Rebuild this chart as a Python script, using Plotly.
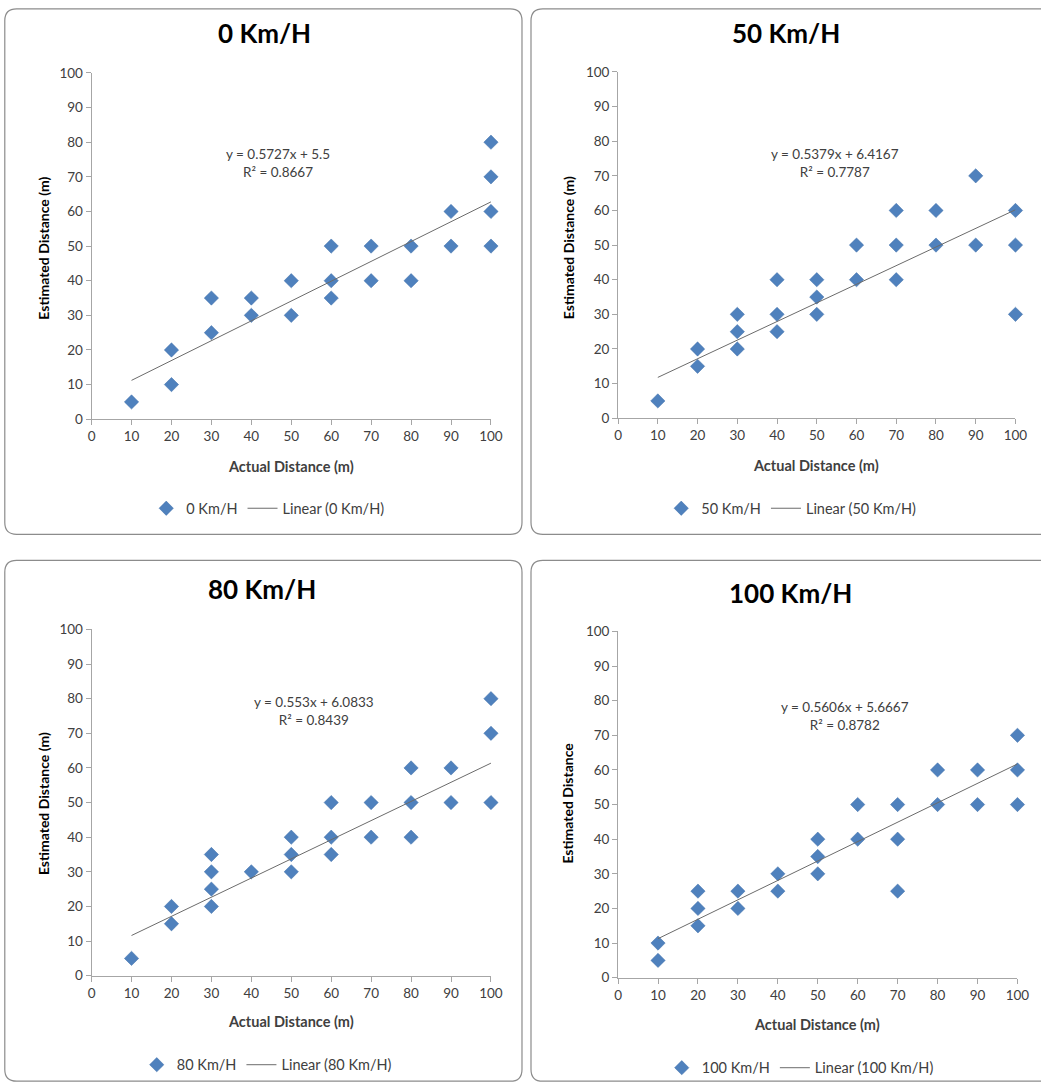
import plotly.graph_objects as go
import numpy as np

W, H = 1041, 1090

titles = ["0 Km/H", "50 Km/H", "80 Km/H", "100 Km/H"]

x_0 = [10, 20, 20, 30, 30, 40, 40, 50, 50, 60, 60, 60, 70, 70, 80, 80, 90, 90, 100, 100, 100, 100]
y_0 = [5, 20, 10, 35, 25, 35, 30, 40, 30, 50, 40, 35, 50, 40, 50, 40, 60, 50, 80, 70, 60, 50]

x_50 = [10, 20, 20, 30, 30, 30, 40, 40, 40, 50, 50, 50, 60, 60, 70, 70, 70, 80, 80, 90, 90, 100, 100, 100]
y_50 = [5, 20, 15, 30, 25, 20, 40, 30, 25, 40, 35, 30, 50, 40, 60, 50, 40, 60, 50, 70, 50, 60, 50, 30]

x_80 = [10, 20, 20, 30, 30, 30, 30, 40, 50, 50, 50, 60, 60, 60, 70, 70, 80, 80, 80, 90, 90, 100, 100, 100]
y_80 = [5, 20, 15, 35, 30, 25, 20, 30, 40, 35, 30, 50, 40, 35, 50, 40, 60, 50, 40, 60, 50, 80, 70, 50]

x_100 = [10, 10, 20, 20, 20, 30, 30, 40, 40, 50, 50, 50, 60, 60, 70, 70, 70, 80, 80, 90, 90, 100, 100, 100]
y_100 = [10, 5, 25, 20, 15, 25, 20, 30, 25, 40, 35, 30, 50, 40, 50, 40, 25, 60, 50, 60, 50, 70, 60, 50]

xs = [x_0, x_50, x_80, x_100]
ys = [y_0, y_50, y_80, y_100]

slopes = [0.5727, 0.5379, 0.553, 0.5606]
intercepts = [5.5, 6.4167, 6.0833, 5.6667]
r_squared = ["0.8667", "0.7787", "0.8439", "0.8782"]
eq_text = ["y = 0.5727x + 5.5", "y = 0.5379x + 6.4167", "y = 0.553x + 6.0833", "y = 0.5606x + 5.6667"]

x_title = "Actual Distance (m)"
y_titles = ["Estimated Distance (m)", "Estimated Distance (m)", "Estimated Distance (m)", "Estimated Distance"]
tick_vals = list(range(0, 101, 10))

# layout in target pixels
panels = [
    dict(box=(5, 3, 522, 534), xr=(92, 491), yr=(419, 73), title=(265, 33), eq=(278, 163),
         xt=(291, 466), yt=(44, 248), leg=(268, 508), clip_right=False),
    dict(box=(531, 3, 1075, 534), xr=(618, 1015), yr=(418, 72), title=(786, 33), eq=(835, 163),
         xt=(816, 465), yt=(568, 248), leg=(791, 508), clip_right=True),
    dict(box=(5, 560, 522, 1088), xr=(92, 491), yr=(975, 629), title=(262, 589), eq=(314, 711),
         xt=(291, 1021), yt=(44, 803), leg=(267, 1064), clip_right=False),
    dict(box=(531, 560, 1075, 1088), xr=(618, 1017), yr=(977, 631), title=(790, 593), eq=(845, 716),
         xt=(817, 1024), yt=(568, 803), leg=(800, 1067), clip_right=True),
]

# the captured page shows the figure slightly scaled; map target pixels to figure pixels
SX, AX = 0.9837, 4.5
SY, AY = 0.9845, 8.1

def fx(x):
    return (x - AX) / SX

def fy(y):
    return (y - AY) / SY

def px(x):
    return fx(x) / W

def py(y):
    return 1 - fy(y) / H

def cpx(x):
    return min(max(fx(x), 0.8), W - 0.8) / W

def cpy(y):
    return 1 - min(max(fy(y), 0.8), H - 0.8) / H

FONT = "Lato, 'Open Sans', sans-serif"
BLUE = "#4F81BD"
TXT = "#404040"

fig = go.Figure()
shapes = []
annotations = []
layout_extra = {}

for i, p in enumerate(panels):
    k = "" if i == 0 else str(i + 1)
    xa = "x" + k
    ya = "y" + k
    leg = "legend" + k

    fig.add_trace(go.Scatter(
        x=xs[i], y=ys[i], mode="markers", name=titles[i],
        marker=dict(symbol="diamond", size=11, color=BLUE, line=dict(width=0.5, color="#3F6FA8")),
        xaxis=xa, yaxis=ya, legend=leg, showlegend=True, cliponaxis=False,
    ))
    line_x = np.array([min(xs[i]), max(xs[i])], dtype=float)
    line_y = slopes[i] * line_x + intercepts[i]
    fig.add_trace(go.Scatter(
        x=line_x, y=line_y, mode="lines", name=f"Linear ({titles[i]})",
        line=dict(color="#6b6b6b", width=1),
        xaxis=xa, yaxis=ya, legend=leg, showlegend=True,
    ))

    axis_common = dict(range=[0, 100], tickvals=tick_vals, showgrid=False, zeroline=False,
                       showline=True, linecolor="#A6A6A6", linewidth=1, ticks="outside",
                       ticklen=5, tickcolor="#A6A6A6",
                       tickfont=dict(family=FONT, size=13.5, color=TXT), fixedrange=True)
    layout_extra["xaxis" + k] = dict(axis_common, domain=[px(p["xr"][0]), px(p["xr"][1])],
                                     anchor=ya)
    layout_extra["yaxis" + k] = dict(axis_common, domain=[py(p["yr"][0]), py(p["yr"][1])],
                                     anchor=xa)

    layout_extra[leg] = dict(orientation="h", x=px(p["leg"][0]), y=py(p["leg"][1]),
                             xanchor="center", yanchor="middle", bgcolor="rgba(0,0,0,0)",
                             font=dict(family=FONT, size=14.5, color=TXT), itemwidth=30)

    # rounded panel border
    x0, y0, x1, y1 = p["box"]
    r = 12
    X0, Y0, Y1 = cpx(x0), cpy(y0), cpy(y1)
    X1 = px(x1) if p["clip_right"] else cpx(x1)
    rx, ry = r / W, r / H
    path = (f"M {X0 + rx},{Y0} L {X1 - rx},{Y0} Q {X1},{Y0} {X1},{Y0 - ry} "
            f"L {X1},{Y1 + ry} Q {X1},{Y1} {X1 - rx},{Y1} "
            f"L {X0 + rx},{Y1} Q {X0},{Y1} {X0},{Y1 + ry} "
            f"L {X0},{Y0 - ry} Q {X0},{Y0} {X0 + rx},{Y0} Z")
    shapes.append(dict(type="path", path=path, xref="paper", yref="paper",
                       line=dict(color="#8C8C8C", width=1.2), fillcolor="rgba(0,0,0,0)", layer="below"))

    annotations.append(dict(text=f"<b>{titles[i]}</b>", x=px(p["title"][0]), y=py(p["title"][1]),
                            xref="paper", yref="paper", showarrow=False, xanchor="center", yanchor="middle",
                            font=dict(family=FONT, size=26, color="#000000")))
    annotations.append(dict(text=f"{eq_text[i]}<br>R² = {r_squared[i]}", x=px(p["eq"][0]), y=py(p["eq"][1]),
                            xref="paper", yref="paper", showarrow=False, xanchor="center", yanchor="middle",
                            align="center", font=dict(family=FONT, size=13.5, color=TXT)))
    annotations.append(dict(text=f"<b>{x_title}</b>", x=px(p["xt"][0]), y=py(p["xt"][1]),
                            xref="paper", yref="paper", showarrow=False, xanchor="center", yanchor="middle",
                            font=dict(family=FONT, size=14.5, color=TXT)))
    annotations.append(dict(text=f"<b>{y_titles[i]}</b>", x=px(p["yt"][0]), y=py(p["yt"][1]),
                            xref="paper", yref="paper", showarrow=False, xanchor="center", yanchor="middle",
                            textangle=-90, font=dict(family=FONT, size=14, color="#000000")))

fig.update_layout(
    width=W, height=H, margin=dict(l=0, r=0, t=0, b=0),
    paper_bgcolor="white", plot_bgcolor="white",
    shapes=shapes, annotations=annotations, **layout_extra,
)

fig.write_html(
    "out.html",
    config={"displayModeBar": False},
    post_script="document.body.style.margin='0px';document.body.style.padding='0px';"
                "document.documentElement.style.overflow='hidden';",
)
